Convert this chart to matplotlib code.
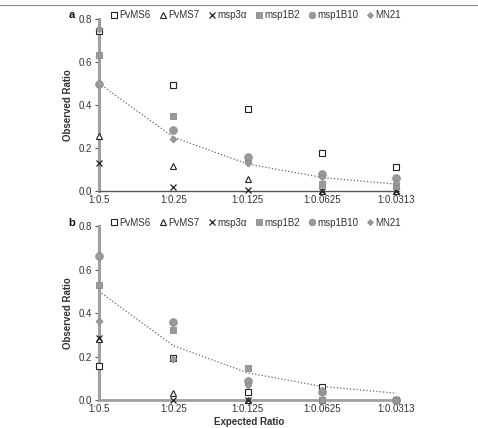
import matplotlib
matplotlib.use('Agg')
import matplotlib.pyplot as plt
from matplotlib.lines import Line2D

# expected ratios on the x axis
ratios = ['1:0.5', '1:0.25', '1:0.125', '1:0.0625', '1:0.0313']
expected = [0.5, 0.25, 0.125, 0.0625, 0.03125]
series = ['PvMS6', 'PvMS7', 'msp3\u03b1', 'msp1B2', 'msp1B10', 'MN21']

# panel a, observed ratios
a_pvms6 = [0.745, 0.491, 0.382, 0.174, 0.109]
a_pvms7 = [0.254, 0.117, 0.055, 0.0, 0.0]
a_msp3a = [0.129, 0.018, 0.003, 0.0, 0.0]
a_msp1b2 = [0.634, 0.346, 0.148, 0.031, 0.022]
a_msp1b10 = [0.498, 0.283, 0.158, 0.077, 0.058]
a_mn21 = [0.752, 0.243, 0.128, 0.065, 0.036]

# panel b, observed ratios
b_pvms6 = [0.156, 0.195, 0.038, 0.060, 0.0]
b_pvms7 = [0.280, 0.031, 0.0, 0.0, 0.0]
b_msp3a = [0.287, 0.0, 0.0, 0.0, 0.0]
b_msp1b2 = [0.530, 0.322, 0.147, 0.0, 0.0]
b_msp1b10 = [0.663, 0.360, 0.089, 0.037, 0.0]
b_mn21 = [0.365, 0.190, 0.069, 0.045, 0.0]

styles = [
    dict(marker='s', mfc='white', mec='#222222', ms=5, mew=0.8),
    dict(marker='^', mfc='white', mec='#222222', ms=5, mew=0.8),
    dict(marker='x', mfc='none', mec='#222222', ms=4.5, mew=0.9),
    dict(marker='s', mfc='#9a9a9a', mec='#8a8a8a', ms=5, mew=0.6),
    dict(marker='o', mfc='#9a9a9a', mec='#8a8a8a', ms=5.5, mew=0.6),
    dict(marker='D', mfc='#9a9a9a', mec='#8a8a8a', ms=3.5, mew=0.6),
]

txt = '#333333'
plt.rcParams['font.family'] = ['Liberation Sans', 'DejaVu Sans']

fig = plt.figure(figsize=(4.78, 4.28), dpi=100)
fig.add_artist(Line2D([0.0, 1.0], [0.988, 0.988], color='#888888', lw=0.8))

ax_a = fig.add_axes([0.207, 0.554, 0.627, 0.402])
ax_b = fig.add_axes([0.207, 0.0654, 0.627, 0.4065])

panels = [
    (ax_a, 'a', [a_pvms6, a_pvms7, a_msp3a, a_msp1b2, a_msp1b10, a_mn21], '#555555', 1.0),
    (ax_b, 'b', [b_pvms6, b_pvms7, b_msp3a, b_msp1b2, b_msp1b10, b_mn21], '#a0a0a0', 2.0),
]

x = list(range(len(ratios)))
for ax, tag, data, xcol, xlw in panels:
    ax.plot(x, expected, ls=':', color='#666666', lw=0.9, zorder=2)
    handles = []
    for name, vals, st in zip(series, data, styles):
        h, = ax.plot(x, vals, ls='none', label=name, clip_on=False, zorder=3, **st)
        handles.append(h)
    ax.set_xlim(0, 4.03)
    ax.set_ylim(0, 0.8)
    ax.set_yticks([0.0, 0.2, 0.4, 0.6, 0.8])
    ax.set_yticklabels(['0.0', '0.2', '0.4', '0.6', '0.8'])
    ax.set_xticks(x)
    ax.set_xticklabels(ratios)
    ax.tick_params(axis='y', length=3, width=0.8, color='#555555', labelsize=7,
                   labelcolor=txt, pad=2)
    ax.tick_params(axis='x', length=0, labelsize=7, labelcolor=txt, pad=3)
    for s in ['top', 'right']:
        ax.spines[s].set_visible(False)
    ax.spines['left'].set_color('#a0a0a0')
    ax.spines['left'].set_linewidth(2.2)
    ax.spines['bottom'].set_color(xcol)
    ax.spines['bottom'].set_linewidth(xlw)
    ax.set_ylabel('Observed Ratio', fontsize=7, fontweight='bold', color=txt, labelpad=4)
    ax.text(-0.09, 1.02, tag, transform=ax.transAxes, fontsize=8, fontweight='bold',
            ha='center', va='center', color='#111111')
    ax.legend(handles=handles, loc='center', bbox_to_anchor=(0.525, 1.02), ncol=6,
              frameon=False, fontsize=7, handlelength=0.6, handletextpad=0.25,
              columnspacing=0.95, labelcolor=txt, markerscale=0.85)

ax_b.set_xlabel('Expected Ratio', fontsize=7, fontweight='bold', color=txt, labelpad=2)

fig.savefig('out.png', dpi=100)
